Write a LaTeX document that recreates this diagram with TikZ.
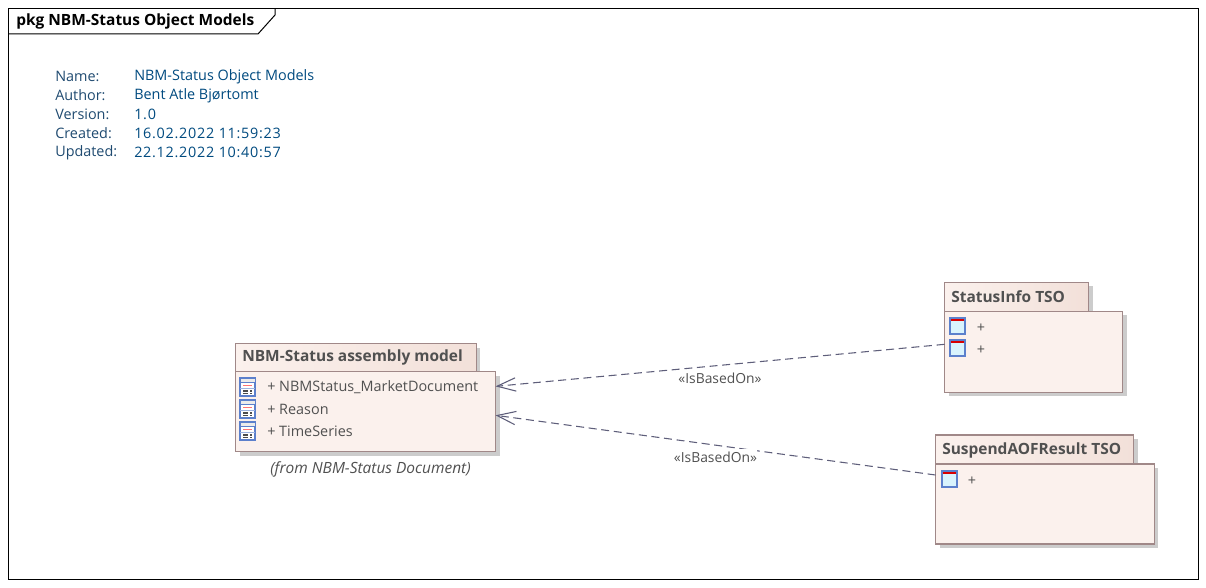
\documentclass[tikz,border=0pt]{standalone}
\usepackage{fontspec}
\setmainfont{Open Sans}
\usetikzlibrary{arrows.meta,positioning,shadows}
\definecolor{pkgborder}{HTML}{A08888}
\definecolor{pkgfill}{HTML}{FBF1ED}
\definecolor{pkgtabend}{HTML}{F2E0D9}
\definecolor{pkgtext}{HTML}{505050}
\definecolor{metablue}{HTML}{004A7F}
\definecolor{metalabel}{HTML}{1F4A70}
\definecolor{linkcol}{HTML}{5E5E7A}
\definecolor{iconblue}{HTML}{5C80CC}

\begin{document}
\begin{tikzpicture}[
    x=0.75pt,
    y=-0.75pt,
    font=\fontsize{10.8}{12}\selectfont,
    boxshadow/.style={
        drop shadow={shadow xshift=3pt, shadow yshift=-3pt, fill=black!20, opacity=1}
    },
    tabbox/.style={
        rectangle,
        draw=pkgborder,
        line width=0.9pt,
        left color=pkgfill,
        right color=pkgtabend,
        boxshadow,
        inner sep=0pt,
        outer sep=0pt,
        minimum height=21.75pt,
        anchor=north west
    },
    bodybox/.style={
        rectangle,
        draw=pkgborder,
        line width=0.9pt,
        fill=pkgfill,
        boxshadow,
        inner sep=0pt,
        outer sep=0pt,
        anchor=north west
    },
    title/.style={font=\fontsize{11.6}{12}\selectfont\bfseries, text=pkgtext, inner sep=0pt},
    member/.style={text=pkgtext, inner sep=0pt, anchor=west},
    metakey/.style={text=metalabel, inner sep=0pt, anchor=west},
    metaval/.style={text=metablue, inner sep=0pt, anchor=west},
    metadate/.style={metaval, font=\fontsize{10.8}{12}\selectfont\addfontfeatures{LetterSpace=5}},
    stereo/.style={text=pkgtext, inner sep=0pt, font=\fontsize{10.4}{12}\selectfont},
    line/.style={draw=linkcol, line width=0.8pt, dash pattern=on 6pt off 3.5pt, -{Straight Barb[length=14pt,width=10pt]}},
    partdoc/.pic={
        \draw[iconblue, line width=0.8pt, fill=white] (0,0) rectangle (15,18);
        \draw[iconblue, line width=0.6pt, fill=black!8] (0,0) rectangle (15,4);
        \draw[red!55, line width=0.6pt] (3,7) -- (12,7);
        \draw[iconblue!60, line width=0.6pt] (0,10) -- (15,10);
        \draw[black!70, line width=0.8pt] (3,13) -- (8,13) (10,13) -- (12,13);
        \draw[black!70, line width=0.8pt] (3,15.5) -- (8,15.5) (10,15.5) -- (12,15.5);
    },
    parttable/.pic={
        \draw[iconblue, line width=1pt, fill=cyan!15] (0,0) rectangle (15,16);
        \fill[red!85!black] (0.8,0.8) rectangle (14.2,3);
    }
]
\useasboundingbox (0,0) rectangle (1206,588);

% Outer frame and its name tab
\node [draw, line width=0.75pt, inner sep=0pt, outer sep=0pt, minimum width=892.2pt, minimum height=428.6pt, anchor=north west] (frame) at (8.5,8.5) {};
\draw [line width=0.75pt] (frame.north west) ++(266.5,0) -- ++(0,6.5) -- ++(-17,19) -- ++(-249.5,0);
\node [font=\fontsize{11.6}{12}\selectfont\bfseries, inner sep=0pt, anchor=west] (frametitle) at (16,21.5) {pkg NBM-Status Object Models};

% Diagram properties
\node [metakey] (keyname) at (55,76.5) {Name:};
\node [metakey] (keyauthor) at (55,95.5) {Author:};
\node [metakey] (keyversion) at (55,114.5) {Version:};
\node [metakey] (keycreated) at (55,133.5) {Created:};
\node [metakey] (keyupdated) at (55,152.5) {Updated:};
\node [metaval] (valname) at (134,76.5) {NBM-Status Object Models};
\node [metaval] (valauthor) at (134,95.5) {Bent Atle Bjørtomt};
\node [metadate] (valversion) at (134,114.5) {1.0};
\node [metadate] (valcreated) at (134,133.5) {16.02.2022 11:59:23};
\node [metadate] (valupdated) at (134,152.5) {22.12.2022 10:40:57};

% Assembly package
\node [tabbox, minimum width=180.5pt, minimum height=21pt] (assemblytab) at (235.5,343.7) {};
\node [bodybox, minimum width=195pt, minimum height=60pt] (assemblybody) at (assemblytab.south west) {};
\node [title, anchor=west] (assemblytitle) at (242,357) {NBM-Status assembly model};
\pic at (240,378) {partdoc};
\pic at (240,400) {partdoc};
\pic at (240,422) {partdoc};
\node [member] (assemblya) at (267,387.5) {+ NBMStatus\_MarketDocument};
\node [member] (assemblyb) at (267,409.5) {+ Reason};
\node [member] (assemblyc) at (267,431.5) {+ TimeSeries};
\node [inner sep=0pt, text=pkgtext, font=\fontsize{11.6}{12}\selectfont\itshape] (assemblyfrom) at (370.5,469) {(from NBM-Status Document)};

% StatusInfo package
\node [tabbox, minimum width=108pt] (statustab) at (944.5,282.3) {};
\node [bodybox, minimum width=133.5pt, minimum height=60.75pt] (statusbody) at (statustab.south west) {};
\node [title, anchor=west] (statustitle) at (951,296.5) {StatusInfo TSO};
\pic at (950,318) {parttable};
\pic at (950,340) {parttable};
\node [member] (statusa) at (976.5,328) {+};
\node [member] (statusb) at (976.5,350) {+};

% SuspendAOFResult package
\node [tabbox, minimum width=148.75pt] (suspendtab) at (935.5,435) {};
\node [bodybox, minimum width=164pt, minimum height=60pt] (suspendbody) at (suspendtab.south west) {};
\node [title, anchor=west] (suspendtitle) at (942,450) {SuspendAOFResult TSO};
\pic at (942,471) {parttable};
\node [member] (suspenda) at (967.5,481) {+};

% Connections with labels
\draw [line] ([yshift=5.6pt]statusbody.west) -- node[stereo, midway, yshift=-9.75pt] (labelstatus) {«IsBasedOn»} ([yshift=19pt]assemblybody.east);
\draw [line] ([yshift=21.75pt]suspendbody.west) -- node[stereo, midway, yshift=-9.4pt, fill=white, inner ysep=2.5pt] (labelsuspend) {«IsBasedOn»} ([yshift=-2.7pt]assemblybody.east);

\end{tikzpicture}
\end{document}
